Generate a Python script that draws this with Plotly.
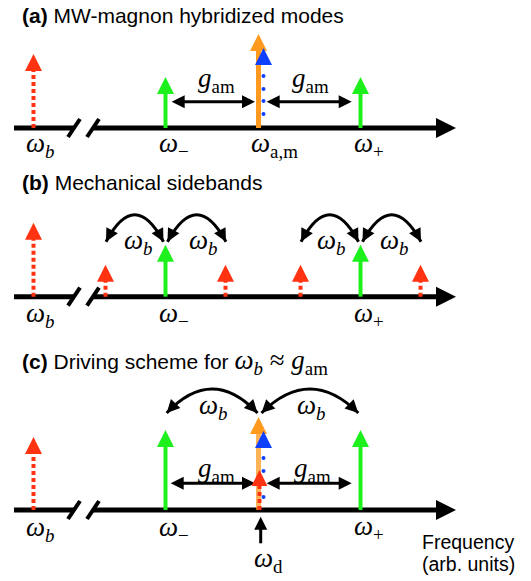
import math
import plotly.graph_objects as go

# ---------------- data (arb. units) ----------------
FIG_W, FIG_H = 531, 581
baselines = [128, 296.7, 510]          # where each frequency axis sits (panel a, b, c)

# mode frequencies along the drawn axis
w_b_pos = 33.5       # mechanical mode (left of axis break)
w_minus = 165.5
w_am = 258.5
w_blue = 263.5
w_plus = 360.5
w_drive = 260.7
sb_shift = 60.0      # mechanical sideband spacing in (b)

# panel (a) heights
a_red_h = 74
a_green_h = 51
a_orange_h = 94
a_blue_h = 80
a_blue_dots = [14, 27, 39, 52]
# panel (b) heights
b_red_h = 74
b_green_h = 52
b_side_h = 32
b_side_x = [w_minus - sb_shift, w_minus + sb_shift, w_plus - sb_shift, w_plus + sb_shift]
# panel (c) heights
c_red_h = 73
c_green_h = 80
c_orange_h = 93
c_blue_h = 79
c_blue_dots = [13, 26, 39, 52]
c_drive_red_h = 40

titles = ["<b>(a)</b> MW-magnon hybridized modes",
          "<b>(b)</b> Mechanical sidebands",
          "<b>(c)</b> Driving scheme for <span style='font-family:Liberation Serif;font-size:27px'><i>ω</i><sub><i>b</i></sub> ≈ <i>g</i><sub>am</sub></span>"]

# ---------------- styles ----------------
RED = "#ff3311"
GREEN = "#1ef01e"
ORANGE = "#ff9a1f"
BLUE = "#1040ff"
BLACK = "#000000"
SERIF = "Liberation Serif"
SANS = "Liberation Sans"

traces, shapes, annotations = [], [], []


def line(x, y, color, width, yref, dash=None, opacity=1.0):
    traces.append(go.Scatter(x=x, y=y, mode="lines", xaxis="x", yaxis=yref,
                             line=dict(color=color, width=width, dash=dash),
                             opacity=opacity, hoverinfo="skip", showlegend=False))


def head(x, y, color, size, yref, symbol="arrow-up", angle=0):
    traces.append(go.Scatter(x=[x], y=[y], mode="markers", xaxis="x", yaxis=yref,
                             marker=dict(symbol=symbol, size=size, color=color, angle=angle,
                                         line=dict(width=0)),
                             hoverinfo="skip", showlegend=False))


def mode_arrow(x, h, color, yref, dotted=False, width=4, hs=17, opacity=1.0):
    line([x, x], [0, h - hs + 1], color, width, yref,
         dash="4px,3px" if dotted else None, opacity=opacity)
    head(x, h, color, hs, yref)


def dots(x, hs, yref):
    traces.append(go.Scatter(x=[x] * len(hs), y=hs, mode="markers", xaxis="x", yaxis=yref,
                             marker=dict(symbol="circle", size=4, color=BLUE, line=dict(width=0)),
                             hoverinfo="skip", showlegend=False))


def freq_axis(yref):
    line([14, 74], [0, 0], BLACK, 5, yref)
    line([93, 440], [0, 0], BLACK, 5, yref)
    head(456, 0, BLACK, 20, yref, symbol="arrow-right")
    for xc in (74, 93):
        line([xc - 6, xc + 6], [-9, 9], BLACK, 4, yref)


def double_arrow(x0, x1, h, yref, hs=13):
    line([x0 + hs - 2, x1 - hs + 2], [h, h], BLACK, 3, yref)
    head(x0, h, BLACK, hs, yref, symbol="arrow-left")
    head(x1, h, BLACK, hs, yref, symbol="arrow-right")


def arc(x0, x1, h_end, h_top, yref, hs=13):
    xm = (x0 + x1) / 2
    cy = 2 * h_top - h_end
    shapes.append(dict(type="path", path=f"M{x0},{h_end} Q{xm},{cy} {x1},{h_end}",
                       xref="x", yref=yref, line=dict(color=BLACK, width=3), layer="below"))
    for xe in (x0, x1):
        dx, dy = xe - xm, h_end - cy
        ang = math.degrees(math.atan2(dx, dy))
        head(xe, h_end, BLACK, hs, yref, angle=ang)


def label(x, h, text, yref, size=27, family=SERIF, xanchor="left", yanchor="middle"):
    annotations.append(dict(x=x, y=h, xref="x", yref=yref, text=text, showarrow=False,
                            xanchor=xanchor, yanchor=yanchor,
                            font=dict(family=family, size=size, color=BLACK)))


W_B = "<i>ω</i><sub><i>b</i></sub>"
G_AM = "<i>g</i><sub>am</sub>"

# ---------------- panel (a) ----------------
ya = "y"
freq_axis(ya)
mode_arrow(w_b_pos, a_red_h, RED, ya, dotted=True)
mode_arrow(w_minus, a_green_h, GREEN, ya)
mode_arrow(w_plus, a_green_h, GREEN, ya)
mode_arrow(w_am, a_orange_h, ORANGE, ya, width=5)
dots(w_blue, a_blue_dots, ya)
head(w_blue, a_blue_h, BLUE, 17, ya)
double_arrow(171.7, 255, 26.3, ya)
double_arrow(266.7, 351.7, 26.3, ya)
label(196, 48, G_AM, ya)
label(290, 48, G_AM, ya)
label(w_b_pos - 10, -17, W_B, ya)
label(w_minus - 9, -17, "<i>ω</i><sub>−</sub>", ya)
label(w_am - 10, -17, "<i>ω</i><sub>a,m</sub>", ya)
label(w_plus - 9, -17, "<i>ω</i><sub>+</sub>", ya)

# ---------------- panel (b) ----------------
yb = "y2"
freq_axis(yb)
mode_arrow(w_b_pos, b_red_h, RED, yb, dotted=True)
for xs in b_side_x:
    mode_arrow(xs, b_side_h, RED, yb, dotted=True)
mode_arrow(w_minus, b_green_h, GREEN, yb)
mode_arrow(w_plus, b_green_h, GREEN, yb)
for xc in (w_minus, w_plus):
    arc(xc - sb_shift + 0.5, xc - 2, 55, 82, yb)
    arc(xc + 2, xc + sb_shift + 0.5, 55, 82, yb)
label(121.7, 55, W_B, yb)
label(186.7, 55, W_B, yb)
label(315, 55, W_B, yb)
label(378.3, 55, W_B, yb)
label(w_b_pos - 10, -18, W_B, yb)
label(w_minus - 9, -18, "<i>ω</i><sub>−</sub>", yb)
label(w_plus - 9, -18, "<i>ω</i><sub>+</sub>", yb)

# ---------------- panel (c) ----------------
yc = "y3"
freq_axis(yc)
mode_arrow(w_b_pos, c_red_h, RED, yc, dotted=True)
mode_arrow(w_minus, c_green_h, GREEN, yc)
mode_arrow(w_plus, c_green_h, GREEN, yc)
mode_arrow(w_am, c_orange_h, ORANGE, yc, width=5, opacity=0.75)
dots(w_blue, c_blue_dots, yc)
head(w_blue, c_blue_h, BLUE, 17, yc)
double_arrow(170.7, 255, 26.7, yc)
double_arrow(266.7, 351.7, 26.7, yc)
mode_arrow(w_am + 1, c_drive_red_h, RED, yc, dotted=True, width=4, hs=16)
arc(166.7, 257.5, 97, 121, yc)
arc(261.5, 358.3, 97, 121, yc)
label(196.7, 103, W_B, yc)
label(295, 103, W_B, yc)
label(196, 40, G_AM, yc)
label(291.7, 40, G_AM, yc)
label(w_b_pos - 10, -19, W_B, yc)
label(w_minus - 9, -19, "<i>ω</i><sub>−</sub>", yc)
label(w_plus - 9, -18, "<i>ω</i><sub>+</sub>", yc)
# drive arrow
line([w_drive, w_drive], [-33.3, -17], BLACK, 3, yc)
head(w_drive, -6.7, BLACK, 13, yc)
label(w_drive - 9, -50, "<i>ω</i><sub>d</sub>", yc)
label(420, -31.5, "Frequency", yc, size=19.5, family=SANS)
label(420, -54, "(arb. units)", yc, size=19.5, family=SANS)

# titles
title_px = [15, 182, 362]
for t, px, yr, base in zip(titles, title_px, [ya, yb, yc], baselines):
    label(20, base - px, t, yr, size=21, family=SANS)

fig = go.Figure(traces)
layout_axes = {}
for i, base in enumerate(baselines):
    key = "yaxis" if i == 0 else f"yaxis{i + 1}"
    ax = dict(range=[base - FIG_H, base], visible=False, fixedrange=True)
    if i > 0:
        ax["overlaying"] = "y"
    layout_axes[key] = ax

fig.update_layout(
    width=FIG_W, height=FIG_H,
    margin=dict(l=0, r=0, t=0, b=0),
    paper_bgcolor="white", plot_bgcolor="white",
    xaxis=dict(range=[0, FIG_W], visible=False, fixedrange=True),
    shapes=shapes, annotations=annotations,
    showlegend=False,
    **layout_axes,
)
fig.write_html("out.html", config={"displayModeBar": False},
               post_script="document.body.style.margin='0';document.body.style.overflow='hidden';")
